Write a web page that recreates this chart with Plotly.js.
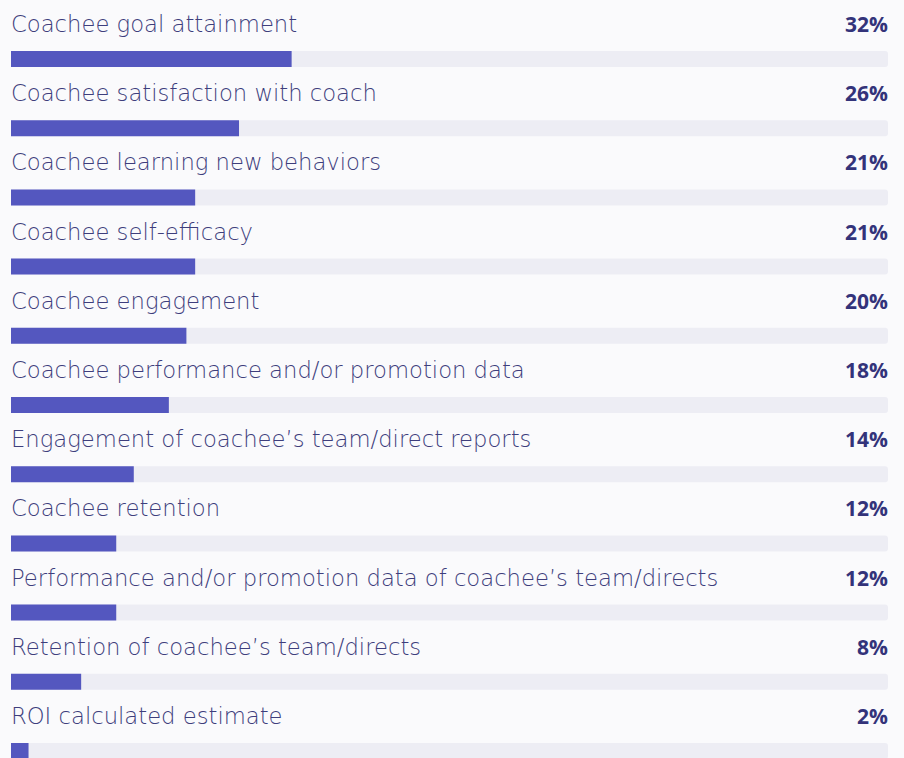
<!DOCTYPE html>
<html>
<head>
<meta charset="utf-8">
<script src="https://cdn.plot.ly/plotly-3.0.1.min.js"></script>
<style>
html,body{margin:0;padding:0;background:#fafafc;}
#chart{width:904px;height:758px;}
</style>
</head>
<body>
<div id="chart"></div>
<script>
const categories = [
  "Coachee goal attainment",
  "Coachee satisfaction with coach",
  "Coachee learning new behaviors",
  "Coachee self-efficacy",
  "Coachee engagement",
  "Coachee performance and/or promotion data",
  "Engagement of coachee’s team/direct reports",
  "Coachee retention",
  "Performance and/or promotion data of coachee’s team/directs",
  "Retention of coachee’s team/directs",
  "ROI calculated estimate"
];
const values = [32, 26, 21, 21, 20, 18, 14, 12, 12, 8, 2];
const valueLabels = ["32%", "26%", "21%", "21%", "20%", "18%", "14%", "12%", "12%", "8%", "2%"];
const trackMax = 100;

const barWidth = 0.231;

const track = {
  type: 'bar', orientation: 'h',
  y: categories, x: categories.map(() => trackMax),
  width: barWidth,
  marker: {color: '#ededf4'},
  hoverinfo: 'skip', showlegend: false
};
const bars = {
  type: 'bar', orientation: 'h',
  y: categories, x: values,
  width: barWidth,
  marker: {color: '#5457bf'},
  showlegend: false
};

const annotations = [];
categories.forEach((c, i) => {
  annotations.push({
    x: 0, xref: 'x', y: c, yref: 'y', xanchor: 'left', yanchor: 'middle',
    xshift: -2, yshift: 35, showarrow: false, text: c,
    font: {family: 'DejaVu Sans, sans-serif', size: 22.7, color: '#3e3e7c', weight: 200}
  });
  annotations.push({
    x: trackMax, xref: 'x', y: c, yref: 'y', xanchor: 'right', yanchor: 'middle',
    xshift: 2, yshift: 35, showarrow: false, text: '<b>' + valueLabels[i] + '</b>',
    font: {family: 'Open Sans, sans-serif', size: 21, color: '#33337a'}
  });
});

const layout = {
  width: 904, height: 758,
  margin: {l: 11, r: 16, t: 0, b: 0, pad: 0},
  paper_bgcolor: '#fafafc', plot_bgcolor: '#fafafc',
  barmode: 'overlay',
  barcornerradius: 3,
  xaxis: {range: [0, trackMax], visible: false, fixedrange: true},
  yaxis: {range: [10.101, -0.8526], visible: false, type: 'category', fixedrange: true},
  annotations: annotations
};

Plotly.newPlot('chart', [track, bars], layout, {displayModeBar: false, staticPlot: true});
</script>
</body>
</html>
